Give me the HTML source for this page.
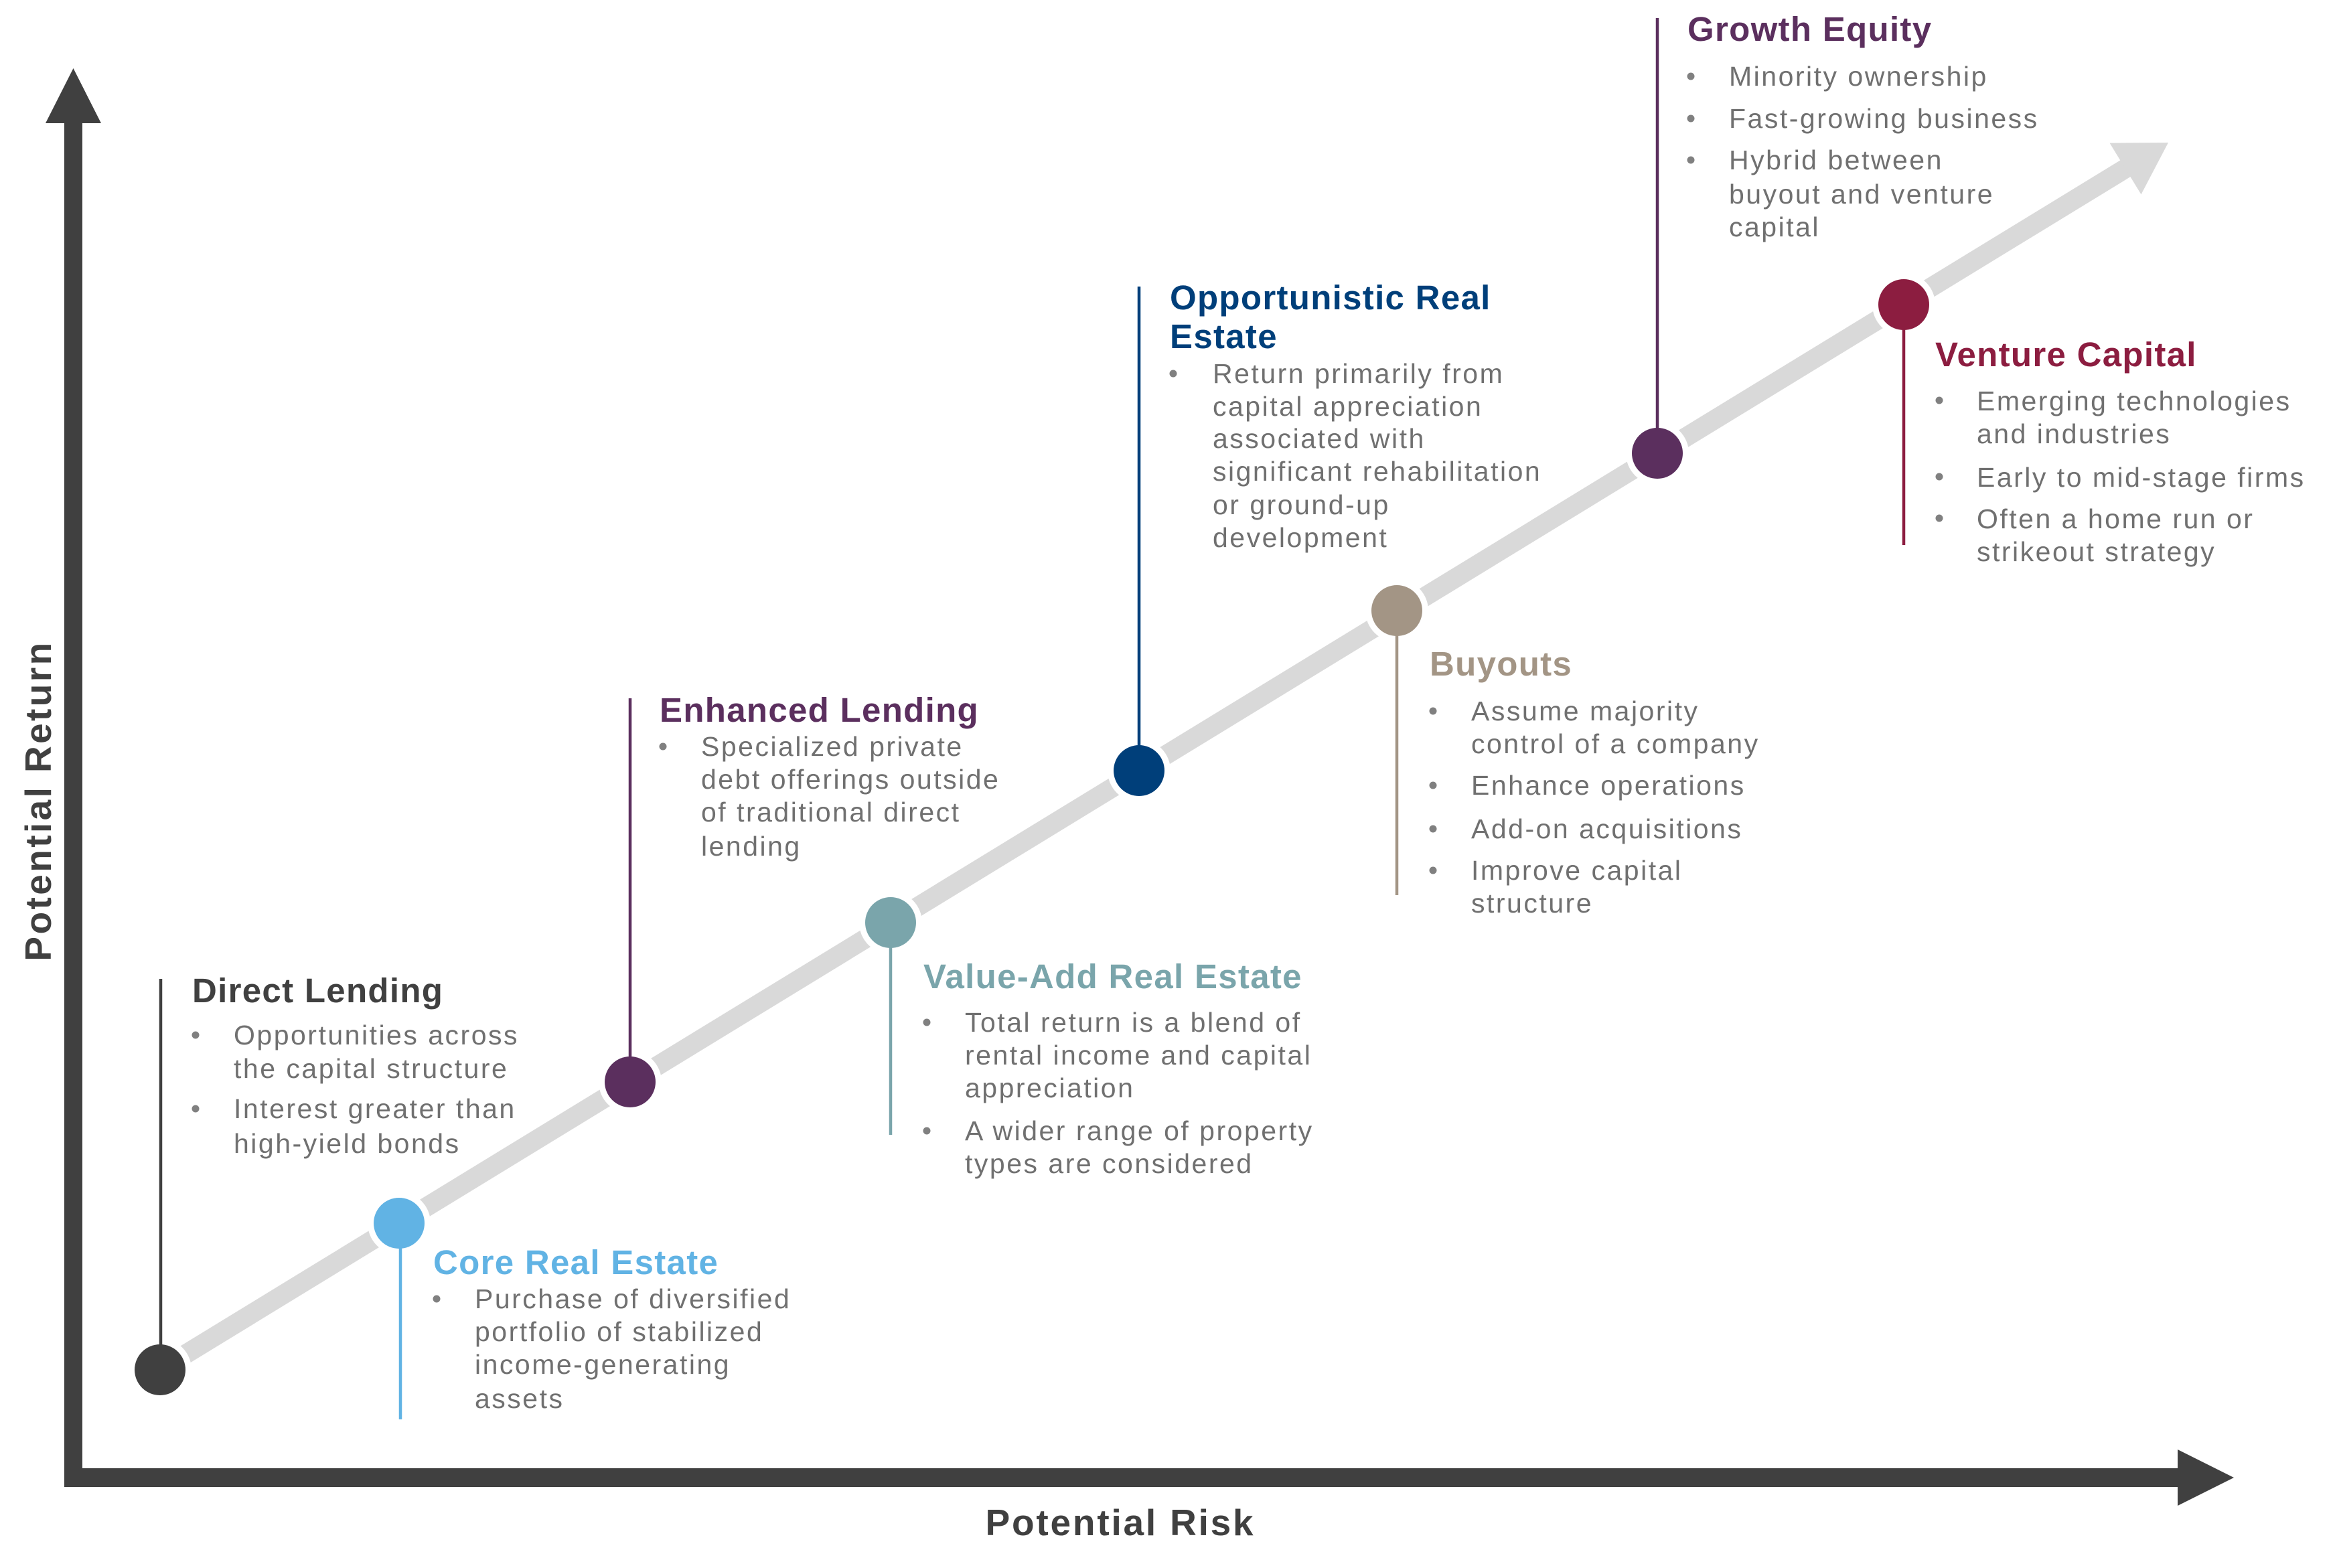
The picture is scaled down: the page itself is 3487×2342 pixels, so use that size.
<!DOCTYPE html>
<html>
<head>
<meta charset="utf-8">
<style>
  html, body { margin: 0; padding: 0; background: #ffffff; }
  svg { display: block; }
  .t { font-family: "Liberation Sans", Arial, sans-serif; font-weight: bold; font-size: 51px; letter-spacing: 1.3px; }
  .b { font-family: "Liberation Sans", Arial, sans-serif; font-size: 41px; letter-spacing: 2.5px; fill: #707070; }
  .ax { font-family: "Liberation Sans", Arial, sans-serif; font-weight: bold; font-size: 55px; fill: #404040; }
</style>
</head>
<body>
<svg width="3487" height="2342" viewBox="0 0 3487 2342" xmlns="http://www.w3.org/2000/svg">
  <rect x="0" y="0" width="3487" height="2342" fill="#ffffff"/>

  <!-- Axes -->
  <rect x="96" y="182" width="27" height="2039" fill="#404040"/>
  <polygon points="109.5,102 68,184 151,184" fill="#404040"/>
  <rect x="96" y="2193" width="3158" height="28" fill="#404040"/>
  <polygon points="3336,2207 3252,2165 3252,2249" fill="#404040"/>

  <!-- Axis labels -->
  <text class="ax" x="1673" y="2293" text-anchor="middle" letter-spacing="2.8">Potential Risk</text>
  <text class="ax" transform="translate(76,1196) rotate(-90)" text-anchor="middle" letter-spacing="3.4">Potential Return</text>

  <!-- Diagonal gray arrow -->
  <line x1="239" y1="2046" x2="3180" y2="248" stroke="#d9d9d9" stroke-width="29"/>
  <polygon points="3238,213 3150.5,213.6 3197.5,290.4" fill="#d9d9d9"/>

  <!-- White rings around nodes -->
  <g fill="#ffffff">
    <circle cx="239" cy="2046" r="47"/>
    <circle cx="596" cy="1827" r="47"/>
    <circle cx="941" cy="1616" r="47"/>
    <circle cx="1330" cy="1378" r="47"/>
    <circle cx="1701" cy="1151" r="47"/>
    <circle cx="2086" cy="912" r="47"/>
    <circle cx="2475" cy="677" r="47"/>
    <circle cx="2843" cy="455" r="47"/>
  </g>

  <!-- Vertical connector lines -->
  <g stroke-width="4.5">
    <line x1="240" y1="1462" x2="240" y2="2010" stroke="#404040"/>
    <line x1="598" y1="1860" x2="598" y2="2120" stroke="#61b3e4"/>
    <line x1="941" y1="1043" x2="941" y2="1580" stroke="#5b2f5e"/>
    <line x1="1330" y1="1412" x2="1330" y2="1695" stroke="#7aa5ab"/>
    <line x1="1701" y1="428" x2="1701" y2="1115" stroke="#003f7a"/>
    <line x1="2086" y1="946" x2="2086" y2="1337" stroke="#a39585"/>
    <line x1="2475" y1="27" x2="2475" y2="642" stroke="#5b2f5e"/>
    <line x1="2843" y1="490" x2="2843" y2="814" stroke="#8c1d40"/>
  </g>

  <!-- Nodes -->
  <circle cx="239" cy="2046" r="38" fill="#404040"/>
  <circle cx="596" cy="1827" r="38" fill="#61b3e4"/>
  <circle cx="941" cy="1616" r="38" fill="#5b2f5e"/>
  <circle cx="1330" cy="1378" r="38" fill="#7aa5ab"/>
  <circle cx="1701" cy="1151" r="38" fill="#003f7a"/>
  <circle cx="2086" cy="912" r="38" fill="#a39585"/>
  <circle cx="2475" cy="677" r="38" fill="#5b2f5e"/>
  <circle cx="2843" cy="455" r="38" fill="#8c1d40"/>

  <!-- Bullets -->
  <g fill="#808080">
    <circle cx="292" cy="1546" r="5.5"/>
    <circle cx="292" cy="1656" r="5.5"/>
    <circle cx="652" cy="1940" r="5.5"/>
    <circle cx="990" cy="1115" r="5.5"/>
    <circle cx="1384" cy="1527" r="5.5"/>
    <circle cx="1384" cy="1689" r="5.5"/>
    <circle cx="1752" cy="558" r="5.5"/>
    <circle cx="2140" cy="1062" r="5.5"/>
    <circle cx="2140" cy="1173" r="5.5"/>
    <circle cx="2140" cy="1238" r="5.5"/>
    <circle cx="2140" cy="1300" r="5.5"/>
    <circle cx="2525" cy="114" r="5.5"/>
    <circle cx="2525" cy="177" r="5.5"/>
    <circle cx="2525" cy="239" r="5.5"/>
    <circle cx="2896" cy="598" r="5.5"/>
    <circle cx="2896" cy="712" r="5.5"/>
    <circle cx="2896" cy="774" r="5.5"/>
  </g>

  <!-- Direct Lending -->
  <text class="t" x="287" y="1497" fill="#404040">Direct Lending</text>
  <text class="b" x="349" y="1560">Opportunities across</text>
  <text class="b" x="349" y="1610">the capital structure</text>
  <text class="b" x="349" y="1670">Interest greater than</text>
  <text class="b" x="349" y="1722">high-yield bonds</text>

  <!-- Core Real Estate -->
  <text class="t" x="647" y="1903" fill="#61b3e4">Core Real Estate</text>
  <text class="b" x="709" y="1954">Purchase of diversified</text>
  <text class="b" x="709" y="2003">portfolio of stabilized</text>
  <text class="b" x="709" y="2052">income-generating</text>
  <text class="b" x="709" y="2103">assets</text>

  <!-- Enhanced Lending -->
  <text class="t" x="985" y="1078" fill="#5b2f5e">Enhanced Lending</text>
  <text class="b" x="1047" y="1129">Specialized private</text>
  <text class="b" x="1047" y="1178">debt offerings outside</text>
  <text class="b" x="1047" y="1227">of traditional direct</text>
  <text class="b" x="1047" y="1278">lending</text>

  <!-- Value-Add Real Estate -->
  <text class="t" x="1379" y="1476" fill="#7aa5ab">Value-Add Real Estate</text>
  <text class="b" x="1441" y="1541">Total return is a blend of</text>
  <text class="b" x="1441" y="1590">rental income and capital</text>
  <text class="b" x="1441" y="1639">appreciation</text>
  <text class="b" x="1441" y="1703">A wider range of property</text>
  <text class="b" x="1441" y="1752">types are considered</text>

  <!-- Opportunistic Real Estate -->
  <text class="t" x="1747" y="462" fill="#003f7a">Opportunistic Real</text>
  <text class="t" x="1747" y="520" fill="#003f7a">Estate</text>
  <text class="b" x="1811" y="572">Return primarily from</text>
  <text class="b" x="1811" y="621">capital appreciation</text>
  <text class="b" x="1811" y="669">associated with</text>
  <text class="b" x="1811" y="718">significant rehabilitation</text>
  <text class="b" x="1811" y="768">or ground-up</text>
  <text class="b" x="1811" y="817">development</text>

  <!-- Buyouts -->
  <text class="t" x="2135" y="1009" fill="#a39585">Buyouts</text>
  <text class="b" x="2197" y="1076">Assume majority</text>
  <text class="b" x="2197" y="1125">control of a company</text>
  <text class="b" x="2197" y="1187">Enhance operations</text>
  <text class="b" x="2197" y="1252">Add-on acquisitions</text>
  <text class="b" x="2197" y="1314">Improve capital</text>
  <text class="b" x="2197" y="1363">structure</text>

  <!-- Growth Equity -->
  <text class="t" x="2520" y="61" fill="#5b2f5e">Growth Equity</text>
  <text class="b" x="2582" y="128">Minority ownership</text>
  <text class="b" x="2582" y="191">Fast-growing business</text>
  <text class="b" x="2582" y="253">Hybrid between</text>
  <text class="b" x="2582" y="304">buyout and venture</text>
  <text class="b" x="2582" y="353">capital</text>

  <!-- Venture Capital -->
  <text class="t" x="2890" y="547" fill="#8c1d40">Venture Capital</text>
  <text class="b" x="2952" y="613">Emerging technologies</text>
  <text class="b" x="2952" y="662">and industries</text>
  <text class="b" x="2952" y="727">Early to mid-stage firms</text>
  <text class="b" x="2952" y="789">Often a home run or</text>
  <text class="b" x="2952" y="838">strikeout strategy</text>
</svg>
</body>
</html>
